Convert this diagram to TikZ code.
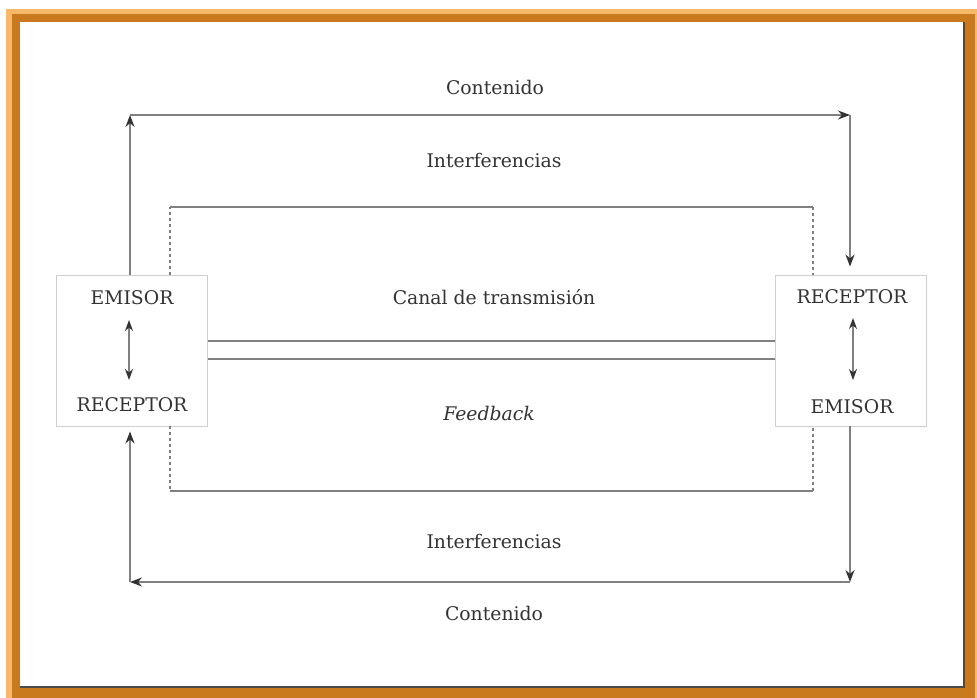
\documentclass[tikz,border=0pt]{standalone}
\usepackage{fontspec}
\setmainfont{DejaVu Serif}
\usetikzlibrary{arrows.meta}
\definecolor{lor}{HTML}{F8B86A}
\definecolor{dor}{HTML}{C97A1E}
\definecolor{edge}{HTML}{4A4A4A}
\definecolor{ln}{HTML}{808080}
\definecolor{boxc}{HTML}{CFCFCF}
\definecolor{txt}{HTML}{333333}
\definecolor{tipc}{HTML}{333333}
\begin{document}
\begin{tikzpicture}[x=1pt,y=-1pt,
  lbl/.style={font=\fontsize{18.8}{21}\selectfont, text=txt, inner sep=0pt},
  blk/.style={draw=boxc, line width=0.9pt, minimum width=151pt, minimum height=151pt, inner sep=0pt},
  conn/.style={draw=ln, line width=1.4pt},
  arr/.style={conn, -{Stealth[length=12pt,width=9pt,color=tipc]}},
  dbl/.style={conn, {Stealth[length=11pt,width=8pt,color=tipc]}-{Stealth[length=11pt,width=8pt,color=tipc]}},
  dsh/.style={draw=ln, line width=1.3pt, dash pattern=on 3pt off 3pt}
]
\useasboundingbox (0,0) rectangle (977,698);
% frame
\fill[white] (0,0) rectangle (977,698);
\fill[lor] (6,9) rectangle (977,698);
\fill[dor] (12,14) rectangle (975,698);
\fill[edge] (20,22) rectangle (965,688);
\fill[white] (20,22) rectangle (963,686);

% blocks
\node[blk] (L) at (132,350.5) {};
\node[blk] (R) at (851,350.5) {};
\node[lbl] (le) at (132,298) {EMISOR};
\node[lbl] (lr) at (132,405) {RECEPTOR};
\node[lbl] (rr) at (852,297) {RECEPTOR};
\node[lbl] (re) at (852,407) {EMISOR};
\draw[dbl] (129,320) -- (129,380);
\draw[dbl] (853,318) -- (853,380);

% labels
\node[lbl] (c1) at (495,87) {Contenido};
\node[lbl] (i1) at (494,160) {Interferencias};
\node[lbl] (ch) at (494,297) {Canal de transmisi\'on};
\node[lbl] (fb) at (489,413) {\itshape Feedback};
\node[lbl] (i2) at (494,541) {Interferencias};
\node[lbl] (c2) at (494,613) {Contenido};

% channel
\draw[conn] (L.east |- 0,341) -- (R.west |- 0,341);
\draw[conn] (L.east |- 0,359) -- (R.west |- 0,359);

% interference box
\coordinate (d1) at (170,207);
\coordinate (d2) at (813,207);
\coordinate (d3) at (170,491);
\coordinate (d4) at (813,491);
\draw[dsh] (d1 |- L.north) -- (d1);
\draw[conn] (d1) -- (d2);
\draw[dsh] (d2) -- (d2 |- R.north);
\draw[dsh] (d3 |- L.south) -- (d3);
\draw[conn] (d3) -- (d4);
\draw[dsh] (d4) -- (d4 |- R.south);

% content loops
\coordinate (tl) at (130,115);
\coordinate (tr) at (850,115);
\coordinate (bl) at (130,582);
\coordinate (br) at (850,582);
\draw[arr] (tl |- L.north) -- (tl);
\draw[arr] (tl) -- (tr);
\draw[arr] (tr) -- ([yshift=8pt]tr |- R.north);
\draw[arr] (br |- R.south) -- (br);
\draw[arr] (br) -- (bl);
\draw[arr] (bl) -- ([yshift=-5pt]bl |- L.south);
\end{tikzpicture}
\end{document}
